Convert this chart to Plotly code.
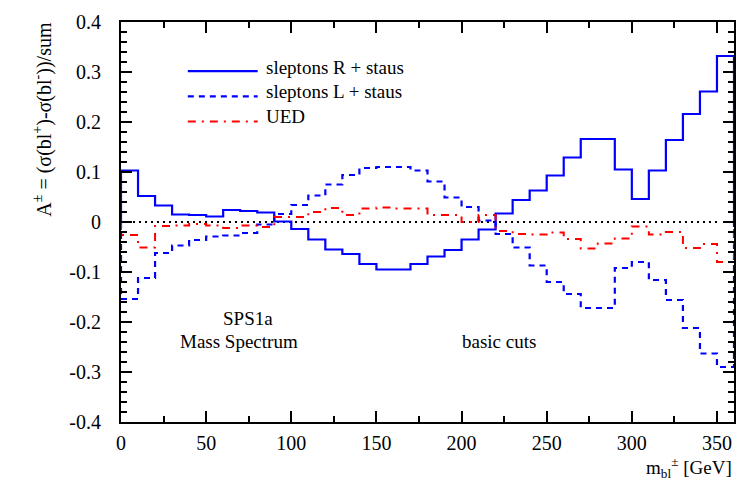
import plotly.graph_objects as go

# ---- data ----
bin_edges = [0, 10, 20, 30, 40, 50, 60, 70, 80, 90, 100, 110, 120, 130, 140, 150, 160, 170, 180,
             190, 200, 210, 220, 230, 240, 250, 260, 270, 280, 290, 300, 310, 320, 330, 340, 350, 360]

sleptons_R = [0.103, 0.052, 0.033, 0.015, 0.014, 0.011, 0.024, 0.022, 0.019,
              0.001, -0.014, -0.035, -0.055, -0.064, -0.084, -0.095, -0.095, -0.084,
              -0.069, -0.056, -0.035, -0.015, 0.017, 0.044, 0.063, 0.093, 0.129,
              0.166, 0.166, 0.105, 0.046, 0.103, 0.164, 0.216, 0.261, 0.332]

sleptons_L = [-0.154, -0.112, -0.062, -0.047, -0.036, -0.029, -0.027, -0.022, -0.005,
              0.016, 0.034, 0.053, 0.075, 0.094, 0.108, 0.110, 0.110, 0.103,
              0.081, 0.049, 0.030, 0.003, -0.024, -0.051, -0.087, -0.120, -0.144,
              -0.172, -0.172, -0.092, -0.080, -0.116, -0.156, -0.212, -0.263, -0.290]

ued = [-0.026, -0.051, -0.008, -0.007, -0.004, -0.007, -0.012, -0.007, -0.010,
       0.010, 0.010, 0.020, 0.028, 0.014, 0.027, 0.029, 0.027, 0.027,
       0.014, 0.014, 0.000, 0.014, -0.018, -0.024, -0.025, -0.021, -0.034,
       -0.053, -0.043, -0.033, -0.009, -0.025, -0.020, -0.052, -0.044, -0.080]

zero_line_x = [0, 350]
zero_line_y = [0, 0]

x_tickvals = [0, 50, 100, 150, 200, 250, 300, 350]
x_ticktext = ["0", "50", "100", "150", "200", "250", "300", "350"]
y_tickvals = [-0.4, -0.3, -0.2, -0.1, 0, 0.1, 0.2, 0.3, 0.4]
y_ticktext = ["-0.4", "-0.3", "-0.2", "-0.1", "0", "0.1", "0.2", "0.3", "0.4"]

series_names = ["sleptons R + staus", "sleptons L + staus", "UED"]

FONT = "Liberation Serif, Times New Roman, serif"
BLUE = "#0000ff"
RED = "#ff0000"


def step_xy(edges, vals):
    xs = [edges[0]] + edges[:-1] + [edges[-1]]
    ys = [0] + vals + [0]
    return xs, ys


fig = go.Figure()

styles = [
    dict(color=BLUE, width=2.2, dash="solid"),
    dict(color=BLUE, width=2.2, dash="6px,5px"),
    dict(color=RED, width=2, dash="8px,6px,2px,6px"),
]

fig.add_trace(go.Scatter(x=zero_line_x, y=zero_line_y, mode="lines",
                         line=dict(color="black", width=2, dash="2px,4px"),
                         showlegend=False, hoverinfo="skip"))

for name, vals, st in zip(series_names, [sleptons_R, sleptons_L, ued], styles):
    xs, ys = step_xy(bin_edges, vals)
    fig.add_trace(go.Scatter(x=xs, y=ys, mode="lines", line_shape="hv",
                             line=st, name=name, showlegend=False))

# manual legend (ROOT style)
legend_rows = [0.877, 0.814, 0.751]
text_rows = [0.887, 0.826, 0.765]
shapes = []
annotations = []
for name, st, ly, ty in zip(series_names, styles, legend_rows, text_rows):
    shapes.append(dict(type="line", xref="paper", yref="paper", x0=0.109, x1=0.223,
                       y0=ly, y1=ly, line=st))
    annotations.append(dict(xref="paper", yref="paper", x=0.234, y=ty, text=name,
                            showarrow=False, xanchor="left", yanchor="middle",
                            font=dict(family=FONT, size=19, color="black")))

annotations += [
    dict(x=74.3, y=-0.192, text="SPS1a", showarrow=False,
         font=dict(family=FONT, size=19, color="black")),
    dict(x=69.1, y=-0.239, text="Mass Spectrum", showarrow=False,
         font=dict(family=FONT, size=19, color="black")),
    dict(x=221.9, y=-0.239, text="basic cuts", showarrow=False,
         font=dict(family=FONT, size=19, color="black")),
    dict(xref="paper", yref="paper", x=1.0, y=-0.113, xanchor="right", yanchor="middle",
         text="m<sub>bl</sub><sup>±</sup> [GeV]", showarrow=False,
         font=dict(family=FONT, size=19, color="black")),
    dict(xref="paper", yref="paper", x=-0.128, y=0.757, xanchor="center", yanchor="middle",
         textangle=-90,
         text="A<sup>±</sup> = (σ(bl<sup>+</sup>)-σ(bl<sup>-</sup>))/sum", showarrow=False,
         font=dict(family=FONT, size=20, color="black")),
]

axis_common = dict(showline=True, linecolor="black", linewidth=2, mirror="allticks",
                   ticks="inside", ticklen=11, tickwidth=1.5, tickcolor="black",
                   showgrid=False, zeroline=False,
                   tickfont=dict(family=FONT, size=20, color="black"))

fig.update_layout(
    width=747, height=490,
    margin=dict(l=121, r=11, t=14, b=68),
    paper_bgcolor="white", plot_bgcolor="white",
    showlegend=False,
    shapes=shapes,
    annotations=annotations,
    xaxis=dict(range=[0, 360], tickvals=x_tickvals, ticktext=x_ticktext,
               minor=dict(ticks="inside", dtick=25, tick0=0, ticklen=6, tickwidth=1.5,
                          tickcolor="black"),
               ticklabelstandoff=2,
               **axis_common),
    yaxis=dict(range=[-0.4, 0.4], tickvals=y_tickvals, ticktext=y_ticktext,
               minor=dict(ticks="inside", dtick=0.02, tick0=0, ticklen=6, tickwidth=1.5,
                          tickcolor="black"),
               ticklabelstandoff=14,
               **axis_common),
)

fig.write_html("out.html",
               config={"displayModeBar": False},
               post_script="document.body.style.margin='0';document.body.style.overflow='hidden';")
